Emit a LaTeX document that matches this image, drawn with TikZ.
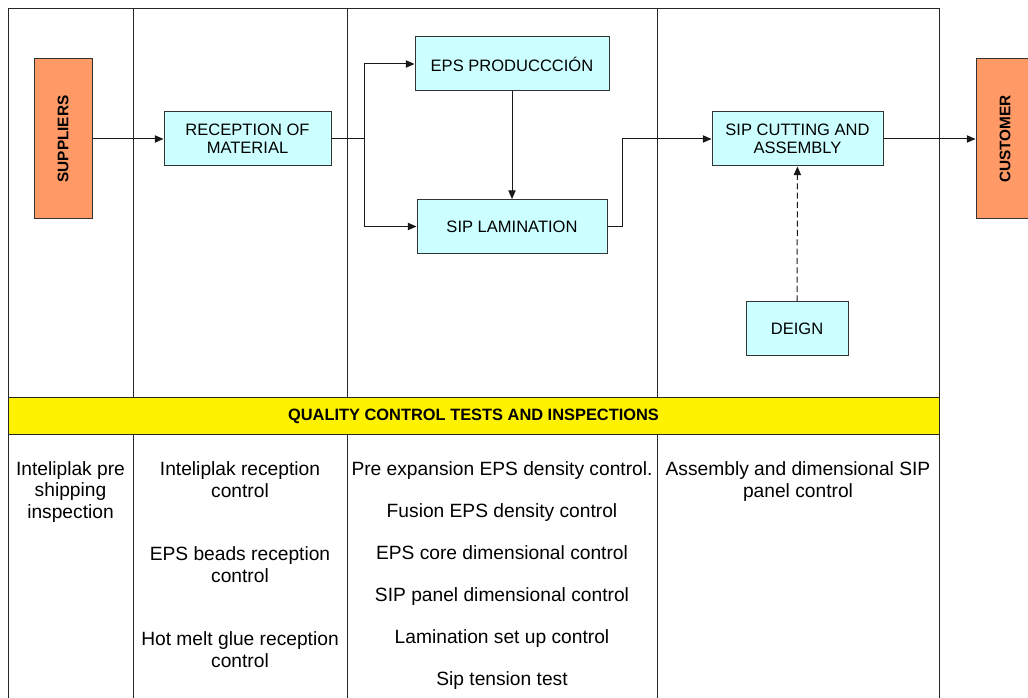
\documentclass[tikz,border=0pt]{standalone}
\usepackage{fontspec}
\setmainfont{Liberation Sans}
\usetikzlibrary{arrows.meta}
\definecolor{partyorange}{HTML}{FF9966}
\definecolor{stepcyan}{HTML}{CCFFFF}
\begin{document}
\begin{tikzpicture}[x=0.75pt,y=-0.75pt,line cap=rect,
	lane/.style={draw=black!85,line width=0.75pt},
	party/.style={draw=black!80,fill=partyorange,line width=0.75pt,rotate=90,inner sep=0pt,
		minimum width=120pt,minimum height=43.5pt,font=\fontsize{11.5}{13}\selectfont\bfseries},
	stepbox/.style={draw=black!80,fill=stepcyan,line width=0.75pt,inner sep=0pt,align=center,
		minimum height=40.5pt,font=\fontsize{12.4}{13.75}\selectfont},
	band/.style={draw=black!85,fill=yellow,line width=0.75pt,inner sep=0pt,
		minimum width=698.25pt,minimum height=27.75pt,font=\fontsize{12.3}{14}\selectfont\bfseries},
	check/.style={align=center,inner sep=0pt,anchor=base,font=\fontsize{14.4}{16.3}\selectfont},
	flow/.style={-{Triangle[length=6.5pt,width=5.5pt]},line width=0.75pt,draw=black!90,line cap=butt}]
		\clip (0,0) rectangle (1028,698);
		\draw[lane] (8,698) -- (8,9) -- (939,9) -- (939,698);
		\draw[lane] (133,9) -- (133,698);
		\draw[lane] (347,9) -- (347,698);
		\draw[lane] (657,9) -- (657,698);
		\node[band] (qc) at (473.5,416) {QUALITY CONTROL TESTS AND INSPECTIONS};
		\node[party] (sup) at (63,139) {SUPPLIERS};
		\node[party] (cust) at (1005,139) {CUSTOMER};
		\node[stepbox,minimum width=125.25pt] (rec) at (247.5,139) {RECEPTION OF\\MATERIAL};
		\node[stepbox,minimum width=145.5pt] (eps) at (512,64) {EPS PRODUCCCIÓN};
		\node[stepbox,minimum width=142.5pt] (lam) at (512,226.5) {SIP LAMINATION};
		\node[stepbox,minimum width=128.25pt] (cut) at (797.5,139) {SIP CUTTING AND\\ASSEMBLY};
		\node[stepbox,minimum width=76.5pt,minimum height=40pt] (deign) at (797,328.5) {DEIGN};
		\draw[flow] (sup) -- (rec);
		\draw[flow] (rec.east) -- ++(33,0) coordinate (split) |- (eps);
		\draw[flow] (split) |- (lam);
		\draw[flow] (eps) -- (lam);
		\draw[flow] (lam.east) -- ++(15,0) coordinate (join) |- (cut);
		\draw[flow] (cut) -- (cust);
		\draw[flow,dashed,dash pattern=on 4.5pt off 2.5pt] (deign) -- (cut);
		\node[check] (pre) at (70.5,518.5) {Inteliplak pre\\shipping\\inspection};
		\node[check] (recint) at (240,497) {Inteliplak reception\\control};
		\node[check] (receps) at (240,582) {EPS beads reception\\control};
		\node[check] (recglue) at (240,667) {Hot melt glue reception\\control};
		\node[check] (prod1) at (502,475) {Pre expansion EPS density control.};
		\node[check] (prod2) at (502,517) {Fusion EPS density control};
		\node[check] (prod3) at (502,559) {EPS core dimensional control};
		\node[check] (prod4) at (502,601) {SIP panel dimensional control};
		\node[check] (prod5) at (502,643) {Lamination set up control};
		\node[check] (prod6) at (502,685) {Sip tension test};
		\node[check] (asm) at (798,497) {Assembly and dimensional SIP\\panel control};
	\end{tikzpicture}
\end{document}
